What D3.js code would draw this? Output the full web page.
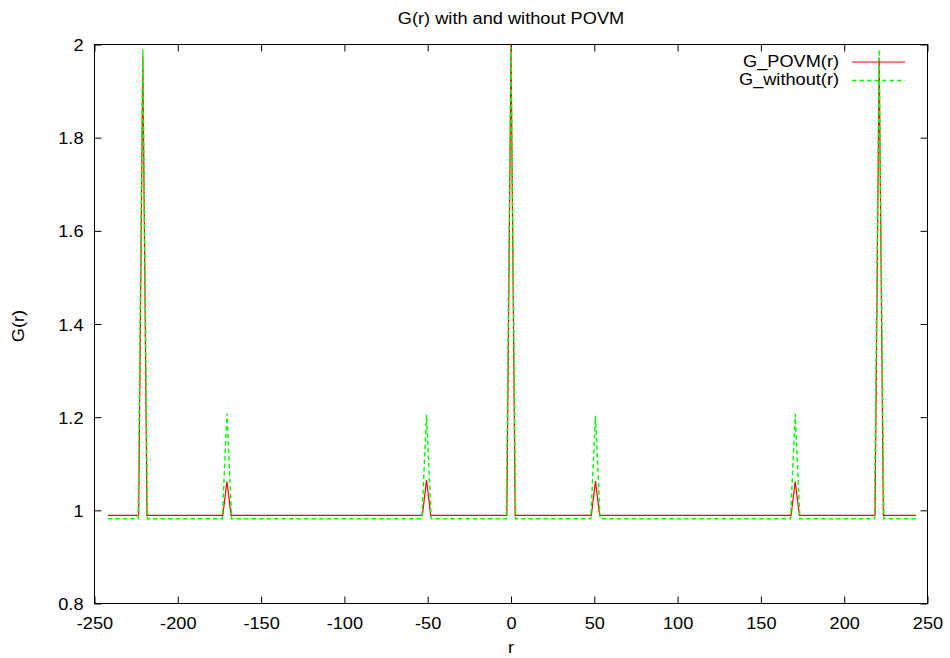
<!DOCTYPE html>
<html>
<head>
<meta charset="utf-8">
<script src="https://cdn.jsdelivr.net/npm/d3@7"></script>
<style>
  html, body { margin: 0; padding: 0; background: #fff; }
  svg { display: block; }
  text { font-family: "Liberation Sans", Arial, sans-serif; fill: #000; }
</style>
</head>
<body>
<svg id="chart" width="950" height="658"></svg>
<script>
// ---- data ----
const title = "G(r) with and without POVM";
const xLabel = "r";
const yLabel = "G(r)";
const seriesNames = ["G_POVM(r)", "G_without(r)"];

const xTicks = [-250, -200, -150, -100, -50, 0, 50, 100, 150, 200, 250];
const yTicks = [0.8, 1, 1.2, 1.4, 1.6, 1.8, 2];

const rPOVM = [-242, -223.5, -221, -218.5, -173, -170.5, -168, -53.2, -50.7, -48.2,
               -2.5, 0, 2.5, 48.2, 50.7, 53.2, 168.1, 170.6, 173.1, 218.5, 221, 223.5, 243];
const gPOVM = [0.989, 0.989, 1.975, 0.989, 0.989, 1.062, 0.989, 0.989, 1.065, 0.989,
               0.989, 2.0, 0.989, 0.989, 1.063, 0.989, 0.989, 1.062, 0.989, 0.989, 1.972, 0.989, 0.989];

const rWithout = [-242, -223.8, -221, -218.2, -173.3, -170.5, -167.7, -53.5, -50.7, -47.9,
                  -2.8, 0, 2.8, 47.9, 50.7, 53.5, 167.8, 170.6, 173.4, 218.2, 221, 223.8, 243];
const gWithout = [0.982, 0.982, 1.99, 0.982, 0.982, 1.208, 0.982, 0.982, 1.205, 0.982,
                  0.982, 1.995, 0.982, 0.982, 1.203, 0.982, 0.982, 1.207, 0.982, 0.982, 1.99, 0.982, 0.982];

// ---- layout ----
const svg = d3.select("#chart");
const L = 94.5, R = 927.5, T = 44.5, B = 603.5;
const FS = 17, SX = 1.07;
const fmt = d => String(d);

const x = d3.scaleLinear().domain([-250, 250]).range([L, R]);
const y = d3.scaleLinear().domain([0.8, 2]).range([B, T]);

function styleAxis(g) {
  g.select(".domain").remove();
  g.selectAll(".tick line").attr("stroke", "#000").attr("stroke-width", 1);
  g.selectAll("text").attr("font-size", FS).attr("font-family", "Liberation Sans, Arial, sans-serif");
}

// bottom axis
svg.append("g").attr("transform", `translate(0,${B})`)
  .call(d3.axisBottom(x).tickValues(xTicks).tickSize(-7).tickFormat(fmt))
  .call(styleAxis)
  .call(g => g.selectAll("text").attr("y", 26).attr("dy", 0).attr("transform", `scale(${SX},1)`));
// top axis (mirror)
svg.append("g").attr("transform", `translate(0,${T})`)
  .call(d3.axisTop(x).tickValues(xTicks).tickSize(-7).tickFormat(""))
  .call(styleAxis);
// left axis
svg.append("g").attr("transform", `translate(${L},0)`)
  .call(d3.axisLeft(y).tickValues(yTicks).tickSize(-7).tickFormat(fmt))
  .call(styleAxis)
  .call(g => g.selectAll("text").attr("dy", "0.36em").attr("transform", `scale(${SX},1)`)
    .attr("x", -11 / SX));
// right axis (mirror)
svg.append("g").attr("transform", `translate(${R},0)`)
  .call(d3.axisRight(y).tickValues(yTicks).tickSize(-7).tickFormat(""))
  .call(styleAxis);

// border
svg.append("rect").attr("x", L).attr("y", T).attr("width", R - L).attr("height", B - T)
  .attr("fill", "none").attr("stroke", "#000").attr("stroke-width", 1);

// clip
svg.append("clipPath").attr("id", "clip").append("rect")
  .attr("x", L).attr("y", T - 2).attr("width", R - L).attr("height", B - T + 2);

const line = d3.line().x(d => x(d[0])).y(d => y(d[1]));
const povmPts = rPOVM.map((r, i) => [r, gPOVM[i]]);
const withoutPts = rWithout.map((r, i) => [r, gWithout[i]]);

const plot = svg.append("g").attr("clip-path", "url(#clip)");
plot.append("path").datum(povmPts).attr("d", line)
  .attr("fill", "none").attr("stroke", "#ff0000").attr("stroke-width", 1.2);
plot.append("path").datum(withoutPts).attr("d", line)
  .attr("fill", "none").attr("stroke", "#00ff00").attr("stroke-width", 1.4)
  .attr("stroke-dasharray", "4.5,3");

// legend
const legend = svg.append("g");
const legY = [62, 80.5];
const legColors = ["#ff0000", "#00ff00"];
const legWidths = [1.2, 1.4];
const legDash = [null, "4.5,3"];
seriesNames.forEach((name, i) => {
  legend.append("text")
    .attr("transform", `translate(839,${[67, 85][i]}) scale(${SX},1)`)
    .attr("text-anchor", "end").attr("font-size", FS).text(name);
  legend.append("line").attr("x1", 852).attr("x2", 905).attr("y1", legY[i]).attr("y2", legY[i])
    .attr("stroke", legColors[i]).attr("stroke-width", legWidths[i])
    .attr("stroke-dasharray", legDash[i]);
});

// title and labels
svg.append("text").attr("transform", `translate(511,24) scale(${SX},1)`)
  .attr("text-anchor", "middle").attr("font-size", FS).text(title);
svg.append("text").attr("transform", `translate(511,653) scale(${SX},1)`)
  .attr("text-anchor", "middle").attr("font-size", FS).text(xLabel);
svg.append("text").attr("transform", `translate(24,326) rotate(-90) scale(${SX},1)`)
  .attr("text-anchor", "middle").attr("font-size", FS).text(yLabel);
</script>
</body>
</html>
